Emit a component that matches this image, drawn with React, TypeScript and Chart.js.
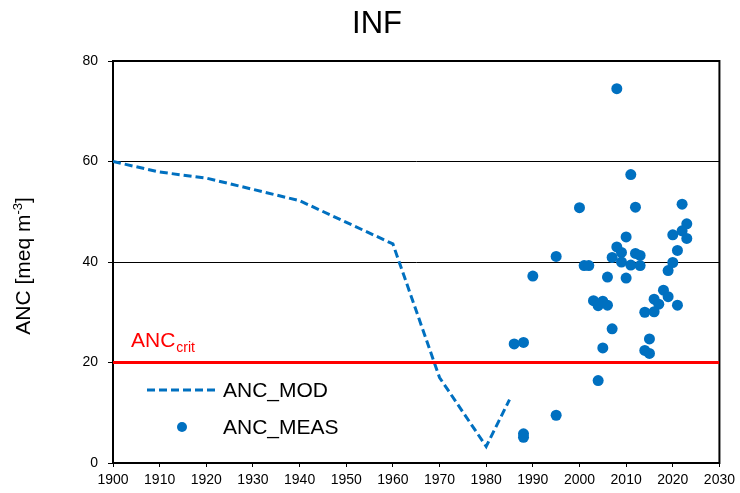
import React, { useEffect, useRef } from "react";
import { Chart, registerables } from "chart.js";

Chart.register(...registerables);

const TITLE = "INF";
const X_MIN = 1900;
const X_MAX = 2030;
const X_STEP = 10;
const Y_MIN = 0;
const Y_MAX = 80;
const Y_STEP = 20;
const ANC_CRIT = 20;

const MOD_YEARS = [1900, 1910, 1920, 1940, 1960, 1970, 1980, 1985];
const MOD_ANC = [60, 57.9, 56.7, 52.2, 43.6, 17.0, 3.3, 12.6];

const MEAS_YEARS = [
  2008, 2011, 2000, 2012, 2022, 2023, 2022, 2020, 2023, 2010,
  2008, 2009, 2007, 2012, 2013, 2021, 1995, 2001, 2002, 2009,
  2011, 2013, 2020, 2019, 1990, 2006, 2010, 2018, 2019, 2016,
  2017, 2003, 2005, 2004, 2006, 2021, 2014, 2016, 2007, 2015,
  1986, 1988, 2005, 2014, 2015, 2004, 1995, 1988, 1988,
];
const MEAS_ANC = [
  74.5, 57.4, 50.8, 50.9, 51.5, 47.6, 46.2, 45.4, 44.7, 45.0,
  43.0, 41.9, 40.9, 41.7, 41.3, 42.3, 41.1, 39.3, 39.3, 40.0,
  39.4, 39.3, 39.9, 38.3, 37.2, 37.0, 36.8, 34.4, 33.1, 32.6,
  31.6, 32.3, 32.2, 31.3, 31.4, 31.4, 30.0, 30.1, 26.7, 24.7,
  23.7, 24.0, 22.9, 22.4, 21.8, 16.4, 9.5, 5.8, 5.1,
];

const BLUE = "#0070C0";
const RED = "#FF0000";
const FONT = "'Liberation Sans', Arial, sans-serif";

const decorPlugin = {
  id: "decor",
  beforeDatasetsDraw(chart: any) {
    const { ctx, chartArea } = chart;
    ctx.save();
    ctx.strokeStyle = "#000";
    ctx.lineWidth = 2;
    ctx.strokeRect(chartArea.left, chartArea.top, chartArea.right - chartArea.left, chartArea.bottom - chartArea.top);
    ctx.restore();
  },
  afterDraw(chart: any) {
    const { ctx, chartArea } = chart;
    ctx.save();
    // Title
    ctx.fillStyle = "#000";
    ctx.font = `31px ${FONT}`;
    ctx.textAlign = "center";
    ctx.textBaseline = "middle";
    ctx.fillText(TITLE, 377, 24);

    // Y axis title with superscript
    ctx.save();
    ctx.translate(30, 266);
    ctx.rotate(-Math.PI / 2);
    ctx.textBaseline = "alphabetic";
    ctx.textAlign = "left";
    const mainFont = `21px ${FONT}`;
    const supFont = `13px ${FONT}`;
    ctx.font = mainFont;
    const p1 = "ANC [meq m";
    const w1 = ctx.measureText(p1).width;
    ctx.font = supFont;
    const p2 = "-3";
    const w2 = ctx.measureText(p2).width;
    ctx.font = mainFont;
    const p3 = "]";
    const w3 = ctx.measureText(p3).width;
    const total = w1 + w2 + w3;
    const x0 = -total / 2;
    ctx.font = mainFont;
    ctx.fillText(p1, x0, 0);
    ctx.font = supFont;
    ctx.fillText(p2, x0 + w1, -8);
    ctx.font = mainFont;
    ctx.fillText(p3, x0 + w1 + w2, 0);
    ctx.restore();

    // ANCcrit label
    const yScale = chart.scales.y;
    const yCrit = yScale.getPixelForValue(ANC_CRIT);
    ctx.fillStyle = RED;
    ctx.textAlign = "left";
    ctx.textBaseline = "alphabetic";
    ctx.font = `21px ${FONT}`;
    const lx = chartArea.left + 18;
    const ly = yCrit - 16;
    ctx.fillText("ANC", lx, ly);
    const wA = ctx.measureText("ANC").width;
    ctx.font = `14px ${FONT}`;
    ctx.fillText("crit", lx + wA + 1, ly + 5);

    // Legend
    ctx.strokeStyle = BLUE;
    ctx.lineWidth = 3;
    ctx.setLineDash([8, 4]);
    ctx.beginPath();
    ctx.moveTo(147, 390);
    ctx.lineTo(217, 390);
    ctx.stroke();
    ctx.setLineDash([]);
    ctx.fillStyle = BLUE;
    ctx.beginPath();
    ctx.arc(182, 427, 5, 0, Math.PI * 2);
    ctx.fill();
    ctx.fillStyle = "#000";
    ctx.font = `21px ${FONT}`;
    ctx.textBaseline = "middle";
    ctx.fillText("ANC_MOD", 223, 391);
    ctx.fillText("ANC_MEAS", 223, 428);
    ctx.restore();
  },
};

export default function App() {
  const ref = useRef<HTMLCanvasElement | null>(null);

  useEffect(() => {
    document.body.style.margin = "0";
    if (!ref.current) return;
    Chart.defaults.font.family = FONT;
    const modData = MOD_YEARS.map((x, i) => ({ x, y: MOD_ANC[i] }));
    const measData = MEAS_YEARS.map((x, i) => ({ x, y: MEAS_ANC[i] }));
    const critData = [
      { x: X_MIN, y: ANC_CRIT },
      { x: X_MAX, y: ANC_CRIT },
    ];
    const chart = new Chart(ref.current, {
      type: "scatter",
      data: {
        datasets: [
          {
            label: "ANC_MEAS",
            data: measData,
            backgroundColor: BLUE,
            borderColor: BLUE,
            pointRadius: 5.5,
            pointHoverRadius: 5.5,
            borderWidth: 0,
            order: 0,
          },
          {
            label: "ANCcrit",
            data: critData,
            showLine: true,
            borderColor: RED,
            borderWidth: 3,
            pointRadius: 0,
            order: 1,
          },
          {
            label: "ANC_MOD",
            data: modData,
            showLine: true,
            borderColor: BLUE,
            borderWidth: 3,
            borderDash: [8, 4],
            pointRadius: 0,
            tension: 0,
            order: 2,
          },
        ],
      },
      options: {
        responsive: false,
        animation: false,
        events: [],
        layout: { padding: { top: 61, right: 19, left: 0, bottom: 0 } },
        plugins: {
          legend: { display: false },
          title: { display: false },
          tooltip: { enabled: false },
        },
        scales: {
          x: {
            type: "linear",
            min: X_MIN,
            max: X_MAX,
            afterFit(scale: any) {
              scale.height = 30;
            },
            ticks: {
              stepSize: X_STEP,
              autoSkip: false,
              maxRotation: 0,
              color: "#000",
              font: { size: 14, family: FONT },
              padding: 5,
              callback: (v: any) => String(v),
            },
            grid: {
              drawOnChartArea: false,
              color: "#000",
              tickLength: 4,
              lineWidth: 1,
            },
            border: { color: "#000", width: 2 },
          },
          y: {
            min: Y_MIN,
            max: Y_MAX,
            afterFit(scale: any) {
              scale.width = 113;
            },
            ticks: {
              stepSize: Y_STEP,
              color: "#000",
              font: { size: 14, family: FONT },
              padding: 10,
              callback: (v: any) => String(v),
            },
            grid: {
              color: "#000",
              tickLength: 5,
              lineWidth: 1,
            },
            border: { color: "#000", width: 2 },
          },
        },
      },
      plugins: [decorPlugin],
    });
    return () => chart.destroy();
  }, []);

  return (
    <div style={{ position: "absolute", left: 0, top: 0, width: 740, height: 493 }}>
      <canvas ref={ref} width={740} height={493} style={{ width: 740, height: 493 }} />
    </div>
  );
}
